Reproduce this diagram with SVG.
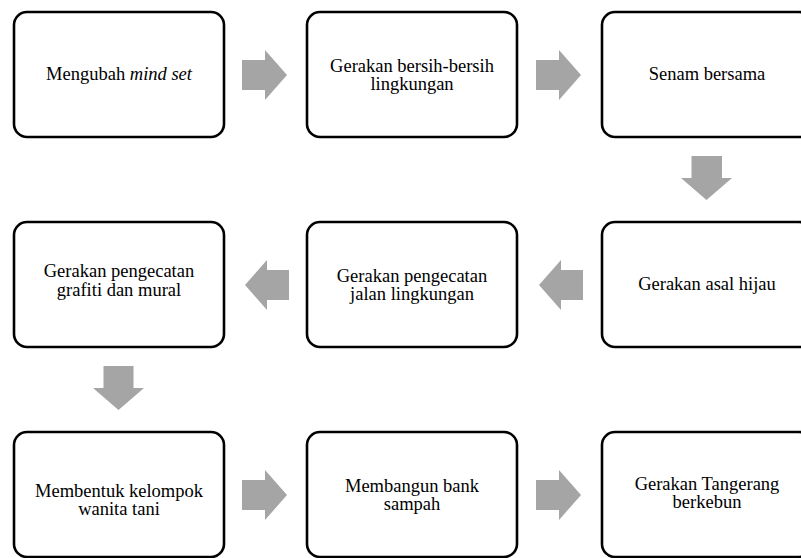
<svg xmlns="http://www.w3.org/2000/svg" width="801" height="558" viewBox="0 0 801 558">
<defs>
<rect id="bx" width="210" height="125" rx="13" fill="#fff" stroke="#000" stroke-width="2.6"/>
</defs>
<rect width="801" height="558" fill="#fff"/>
<g id="connectors" fill="#a5a5a5">
<polygon points="242,60 265,60 265,50 287,75 265,100 265,90 242,90"/>
<polygon points="536,60 559,60 559,50 581,75 559,100 559,90 536,90"/>
<polygon points="691.5,156 722,156 722,178 732,178 706.5,200 681,178 691.5,178"/>
<polygon points="583,270 561,270 561,260 539,285 561,310 561,300 583,300"/>
<polygon points="289,270 267,270 267,260 245,285 267,310 267,300 289,300"/>
<polygon points="103.5,366 133.5,366 133.5,388 144,388 118.5,410 93,388 103.5,388"/>
<polygon points="242,480 265,480 265,470 287,495 265,520 265,510 242,510"/>
<polygon points="536,480 559,480 559,470 581,495 559,520 559,510 536,510"/>
</g>
<g font-family="Liberation Serif, serif" font-size="18.5" text-anchor="middle" fill="#000">
<g id="n1"><use href="#bx" x="14" y="12"/><text x="119" y="80">Mengubah <tspan font-style="italic">mind set</tspan></text></g>
<g id="n2"><use href="#bx" x="307" y="12"/><text x="412" y="71.5">Gerakan bersih-bersih</text><text x="412" y="90">lingkungan</text></g>
<g id="n3"><use href="#bx" x="602" y="12"/><text x="707" y="80">Senam bersama</text></g>
<g id="n4"><use href="#bx" x="602" y="222"/><text x="707" y="290">Gerakan asal hijau</text></g>
<g id="n5"><use href="#bx" x="307" y="222"/><text x="412" y="281.5">Gerakan pengecatan</text><text x="412" y="300">jalan lingkungan</text></g>
<g id="n6"><use href="#bx" x="14" y="222"/><text x="119" y="277">Gerakan pengecatan</text><text x="119" y="295.5">grafiti dan mural</text></g>
<g id="n7"><use href="#bx" x="14" y="432"/><text x="119" y="496.5">Membentuk kelompok</text><text x="119" y="515">wanita tani</text></g>
<g id="n8"><use href="#bx" x="307" y="432"/><text x="412" y="491.5">Membangun bank</text><text x="412" y="510">sampah</text></g>
<g id="n9"><use href="#bx" x="602" y="432"/><text x="707" y="489.5">Gerakan Tangerang</text><text x="707" y="508">berkebun</text></g>
</g>
</svg>
